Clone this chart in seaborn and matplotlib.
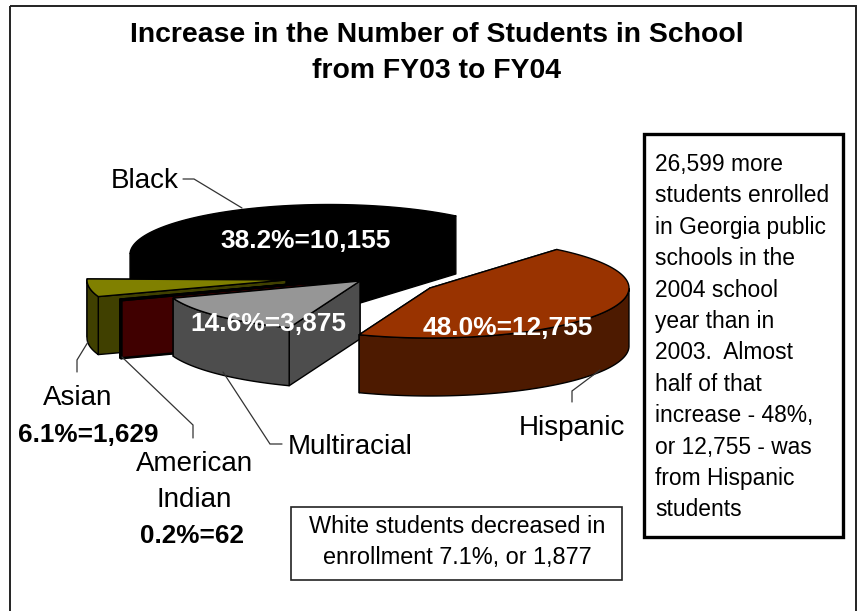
import numpy as np
import matplotlib
matplotlib.use("Agg")
import matplotlib.pyplot as plt
from matplotlib.patches import Polygon, Rectangle
import seaborn as sns

# Enrollment increase by group, FY03 to FY04
groups = ["Hispanic", "Multiracial", "American Indian", "Asian", "Black"]
students = [12755, 3875, 62, 1629, 10155]
percents = [48.0, 14.6, 0.2, 6.1, 38.2]

title_lines = ["Increase in the Number of Students in School", "from FY03 to FY04"]
note_lines = ["26,599 more", "students enrolled", "in Georgia public", "schools in the",
              "2004 school", "year than in", "2003.  Almost", "half of that",
              "increase - 48%,", "or 12,755 - was", "from Hispanic", "students"]
white_lines = ["White students decreased in", "enrollment 7.1%, or 1,877"]

# Slice styling
top_colors = sns.color_palette(["#993300", "#969696", "#800000", "#808000", "#000000"])
wall_colors = sns.color_palette(["#4d1a00", "#4d4d4d", "#400000", "#404000", "#000000"])
outline_widths = [1.0, 1.0, 1.8, 1.0, 1.0]
START_ANGLE = 50.4          # first slice begins here, running clockwise
RX, RY, DEPTH = 199, 50, 58  # projected pie radii and extrusion, in pixels
slice_centers = {"Hispanic": (430, 288), "Multiracial": (360, 281),
                 "American Indian": (308, 283), "Asian": (286, 280), "Black": (329, 254.5)}
draw_order = ["Black", "Asian", "American Indian", "Multiracial", "Hispanic"]

sns.set_theme(style="white", rc={"font.family": ["Liberation Sans", "DejaVu Sans"]})
fig = plt.figure(figsize=(8.58, 6.11), dpi=100, facecolor="white")
ax = fig.add_axes([0, 0, 1, 1])
ax.set_xlim(0, 858)
ax.set_ylim(611, 0)
ax.axis("off")


def rim(center, t):
    """Point(s) on the top rim of a slice at parameter angle t (degrees)."""
    t = np.radians(t)
    return center[0] + RX * np.cos(t), center[1] - RY * np.sin(t)


def draw_slice(center, t_hi, t_lo, top, wall, lw):
    edge = dict(edgecolor="black", linewidth=lw, joinstyle="round")
    # radial faces: those turned away from the viewer go first
    faces = sorted([(t_hi, t_hi + 90), (t_lo, t_lo - 90)],
                   key=lambda f: np.sin(np.radians(f[1])) < 0)
    for t, _ in faces:
        x, y = rim(center, t)
        ax.add_patch(Polygon([center, (x, y), (x, y + DEPTH),
                              (center[0], center[1] + DEPTH)], facecolor=wall, **edge))
    # outer wall, front half of the rim only
    ts = np.linspace(t_lo, t_hi, 200)
    ts = ts[np.sin(np.radians(ts)) <= 0.0]
    if ts.size > 1:
        x, y = rim(center, ts)
        pts = np.r_[np.c_[x, y], np.c_[x, y + DEPTH][::-1]]
        ax.add_patch(Polygon(pts, facecolor=wall, **edge))
    # top face
    ts = np.linspace(t_lo, t_hi, 200)
    x, y = rim(center, ts)
    ax.add_patch(Polygon(np.r_[[center], np.c_[x, y]], facecolor=top, **edge))


# Slice angles come from each group's share of the summed increases
shares = np.array(students) / np.sum(students) * 360
bounds = START_ANGLE - np.r_[0, np.cumsum(shares)]
angle_of = {g: (bounds[i], bounds[i + 1]) for i, g in enumerate(groups)}
for g in draw_order:
    i = groups.index(g)
    draw_slice(slice_centers[g], *angle_of[g], top_colors[i], wall_colors[i], outline_widths[i])


def value_label(i):
    return f"{percents[i]:.1f}%={students[i]:,}"


# Leader lines
leader = dict(color="#333333", lw=0.9, solid_joinstyle="miter")
ax.plot([183, 194, 242], [179, 179, 208], **leader)
ax.plot([572, 572, 600], [402, 391, 370], **leader)
ax.plot([77, 77, 88], [372, 360, 342], **leader)
ax.plot([122, 193, 193], [357, 425, 438], **leader)
ax.plot([223, 270, 282], [372, 444, 444], **leader)

# Values printed on the slices
bold_white = dict(color="white", fontsize=18.9, fontweight="bold", ha="center", va="baseline")
ax.text(306, 248, value_label(groups.index("Black")), **bold_white)
ax.text(268, 331, value_label(groups.index("Multiracial")), **bold_white)
ax.text(508, 335, value_label(groups.index("Hispanic")), **bold_white)

# Category labels
plain = dict(color="black", fontsize=20, va="baseline")
bold = dict(color="black", fontsize=18.8, fontweight="bold", ha="center", va="baseline")
ax.text(145, 188, "Black", ha="center", **plain)
ax.text(572, 435, "Hispanic", ha="center", **plain)
ax.text(350, 454, "Multiracial", ha="center", **plain)
ax.text(78, 405, "Asian", ha="center", **plain)
ax.text(88, 442, value_label(groups.index("Asian")), **bold)
ax.text(194, 471, "American", ha="center", **plain)
ax.text(194, 507, "Indian", ha="center", **plain)
ax.text(192, 543, value_label(groups.index("American Indian")), **bold)

# Title
for y, line in zip([42, 78], title_lines):
    ax.text(436.5, y, line, color="black", fontsize=20.4, fontweight="bold",
            ha="center", va="baseline")

# Outer frame, open past the lower edge of the figure
ax.add_patch(Rectangle((10, 6), 846, 640, fill=False, edgecolor="#222222", linewidth=1.4))

# Note box
ax.add_patch(Rectangle((644, 134), 199, 403, facecolor="white", edgecolor="black", linewidth=2.4))
for k, line in enumerate(note_lines):
    ax.text(655, 171 + 31.4 * k, line, color="black", fontsize=16.4, ha="left", va="baseline")

# White-enrollment box
ax.add_patch(Rectangle((291, 507), 331, 73, facecolor="white", edgecolor="#222222", linewidth=1.2))
for y, line in zip([533, 564], white_lines):
    ax.text(457, y, line, color="black", fontsize=16.9, ha="center", va="baseline")

fig.savefig("out.png", dpi=100, facecolor="white")
